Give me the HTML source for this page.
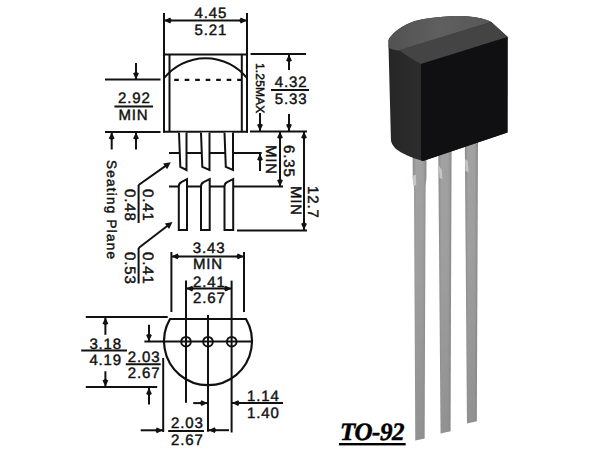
<!DOCTYPE html>
<html><head><meta charset="utf-8"><style>
html,body{margin:0;padding:0;background:#fff;}
svg{display:block;}
text{font-family:"Liberation Sans",sans-serif;fill:#111;stroke:#111;stroke-width:0.45px;text-rendering:geometricPrecision;}
</style></head><body>
<svg width="600" height="451" viewBox="0 0 600 451">
<rect width="600" height="451" fill="#fff"/>
<line x1="164" y1="13" x2="164" y2="132.5" stroke="#111" stroke-width="2.0"/>
<line x1="247" y1="13" x2="247" y2="132.5" stroke="#111" stroke-width="2.0"/>
<line x1="164" y1="20.5" x2="247" y2="20.5" stroke="#111" stroke-width="2.0"/>
<path d="M164.00,20.50 L170.20,17.60 L171.80,20.50 L170.20,23.40Z" fill="#111"/>
<path d="M247.00,20.50 L240.80,23.40 L239.20,20.50 L240.80,17.60Z" fill="#111"/>
<text x="210.925" y="17.6" text-anchor="middle" font-size="15" letter-spacing="0.85" >4.45</text>
<text x="210.925" y="34.6" text-anchor="middle" font-size="15" letter-spacing="0.85" >5.21</text>
<line x1="163" y1="54.5" x2="248" y2="54.5" stroke="#111" stroke-width="2.0"/>
<line x1="169.5" y1="54.5" x2="169.5" y2="131.5" stroke="#111" stroke-width="2.0"/>
<line x1="241.8" y1="54.5" x2="241.8" y2="131.5" stroke="#111" stroke-width="2.0"/>
<line x1="163" y1="131.7" x2="248" y2="131.7" stroke="#111" stroke-width="2.0"/>
<path d="M164.5,77.7 A53,53 0 0 1 246.7,77.7" fill="none" stroke="#111" stroke-width="2"/>
<line x1="174.2" y1="79.8" x2="241" y2="79.8" stroke="#111" stroke-width="2.3" stroke-dasharray="4.6 5.9"/>
<line x1="105" y1="79.5" x2="160.5" y2="79.5" stroke="#111" stroke-width="2.0"/>
<line x1="136" y1="63" x2="136.0" y2="79.5" stroke="#111" stroke-width="2.0"/>
<path d="M136.00,79.50 L133.10,73.30 L136.00,71.70 L138.90,73.30Z" fill="#111"/>
<line x1="105" y1="132" x2="160.5" y2="132" stroke="#111" stroke-width="2.0"/>
<line x1="111.7" y1="149.5" x2="111.7" y2="132.3" stroke="#111" stroke-width="2.0"/>
<path d="M111.70,132.30 L114.60,138.50 L111.70,140.10 L108.80,138.50Z" fill="#111"/>
<line x1="136" y1="149.5" x2="136.0" y2="132.3" stroke="#111" stroke-width="2.0"/>
<path d="M136.00,132.30 L138.90,138.50 L136.00,140.10 L133.10,138.50Z" fill="#111"/>
<text x="134.425" y="103.2" text-anchor="middle" font-size="15" letter-spacing="0.85" >2.92</text>
<line x1="114.4" y1="106.5" x2="153" y2="106.5" stroke="#111" stroke-width="2.0"/>
<text x="133.425" y="119.8" text-anchor="middle" font-size="15" letter-spacing="0.85" >MIN</text>
<text transform="translate(107.3,160) rotate(90)" text-anchor="start" font-size="13.5" letter-spacing="1.25" >Seating Plane</text>
<line x1="169" y1="153" x2="261.7" y2="153" stroke="#111" stroke-width="2.0"/>
<line x1="169" y1="186.5" x2="283" y2="186.5" stroke="#111" stroke-width="2.0"/>
<line x1="237" y1="230.5" x2="307" y2="230.5" stroke="#111" stroke-width="2.0"/>
<path d="M179,132.6 L180.3,166.8 L186.5,170 L186.5,132.6" fill="#fff" stroke="#111" stroke-width="2" stroke-linejoin="miter"/>
<path d="M201,132.6 L202.3,166.8 L209.5,170 L209.5,132.6" fill="#fff" stroke="#111" stroke-width="2" stroke-linejoin="miter"/>
<path d="M224.5,132.6 L225.8,166.8 L233,170 L233,132.6" fill="#fff" stroke="#111" stroke-width="2" stroke-linejoin="miter"/>
<path d="M178.8,230 L178.8,186.5 Q178.8,183.2 181.4,182.2 L187,179.2 L187,230 Z" fill="#fff" stroke="#111" stroke-width="2" stroke-linejoin="miter"/>
<path d="M201,230 L201,186.5 Q201,183.2 203.6,182.2 L209.7,179.2 L209.7,230 Z" fill="#fff" stroke="#111" stroke-width="2" stroke-linejoin="miter"/>
<path d="M224.5,230 L224.5,186.5 Q224.5,183.2 227.1,182.2 L233.2,179.2 L233.2,230 Z" fill="#fff" stroke="#111" stroke-width="2" stroke-linejoin="miter"/>
<line x1="250.6" y1="54" x2="306" y2="54" stroke="#111" stroke-width="2.0"/>
<line x1="250" y1="131.5" x2="307" y2="131.5" stroke="#111" stroke-width="2.0"/>
<text transform="translate(256,63) rotate(90)" text-anchor="start" font-size="12" letter-spacing="0.15" >1.25MAX</text>
<line x1="260" y1="113" x2="260.0" y2="131.0" stroke="#111" stroke-width="2.0"/>
<path d="M260.00,131.00 L257.10,124.80 L260.00,123.20 L262.90,124.80Z" fill="#111"/>
<line x1="260" y1="171" x2="260.0" y2="153.5" stroke="#111" stroke-width="2.0"/>
<path d="M260.00,153.50 L262.90,159.70 L260.00,161.30 L257.10,159.70Z" fill="#111"/>
<line x1="289" y1="70" x2="289.0" y2="54.5" stroke="#111" stroke-width="2.0"/>
<path d="M289.00,54.50 L291.90,60.70 L289.00,62.30 L286.10,60.70Z" fill="#111"/>
<line x1="289" y1="114" x2="289.0" y2="131.0" stroke="#111" stroke-width="2.0"/>
<path d="M289.00,131.00 L286.10,124.80 L289.00,123.20 L291.90,124.80Z" fill="#111"/>
<text x="291.125" y="87" text-anchor="middle" font-size="15" letter-spacing="0.85" >4.32</text>
<line x1="271" y1="90" x2="309" y2="90" stroke="#111" stroke-width="2.0"/>
<text x="291.125" y="103.5" text-anchor="middle" font-size="15" letter-spacing="0.85" >5.33</text>
<line x1="280" y1="131.5" x2="280" y2="186.5" stroke="#111" stroke-width="2.0"/>
<path d="M280.00,131.50 L282.90,137.70 L280.00,139.30 L277.10,137.70Z" fill="#111"/>
<path d="M280.00,186.50 L277.10,180.30 L280.00,178.70 L282.90,180.30Z" fill="#111"/>
<line x1="304" y1="131.5" x2="304" y2="230" stroke="#111" stroke-width="2.0"/>
<path d="M304.00,131.50 L306.90,137.70 L304.00,139.30 L301.10,137.70Z" fill="#111"/>
<path d="M304.00,230.00 L301.10,223.80 L304.00,222.20 L306.90,223.80Z" fill="#111"/>
<text transform="translate(283.5,145) rotate(90)" text-anchor="start" font-size="15" letter-spacing="0.85" >6.35</text>
<text transform="translate(265.5,145) rotate(90)" text-anchor="start" font-size="15" letter-spacing="0.85" >MIN</text>
<text transform="translate(307.5,186) rotate(90)" text-anchor="start" font-size="15" letter-spacing="0.85" >12.7</text>
<text transform="translate(290.8,186) rotate(90)" text-anchor="start" font-size="15" letter-spacing="0.85" >MIN</text>
<line x1="138.6" y1="185" x2="138.6" y2="223" stroke="#111" stroke-width="2.0"/>
<line x1="138.6" y1="185" x2="166.71340283434077" y2="165.18092408883433" stroke="#111" stroke-width="2.0"/>
<path d="M170.80,162.30 L167.10,169.19 L165.08,166.33 L163.06,163.47Z" fill="#111"/>
<text transform="translate(142.5,189) rotate(90)" text-anchor="start" font-size="15" letter-spacing="0.85" >0.41</text>
<text transform="translate(124.7,189) rotate(90)" text-anchor="start" font-size="15" letter-spacing="0.85" >0.48</text>
<line x1="138.6" y1="248" x2="138.6" y2="283.5" stroke="#111" stroke-width="2.0"/>
<line x1="138.6" y1="248" x2="168.53253336868846" y2="225.04289476147787" stroke="#111" stroke-width="2.0"/>
<path d="M172.50,222.00 L169.08,229.04 L166.95,226.26 L164.82,223.48Z" fill="#111"/>
<text transform="translate(142.5,252) rotate(90)" text-anchor="start" font-size="15" letter-spacing="0.85" >0.41</text>
<text transform="translate(124.7,252) rotate(90)" text-anchor="start" font-size="15" letter-spacing="0.85" >0.53</text>
<line x1="171.4" y1="252" x2="171.4" y2="312" stroke="#111" stroke-width="2.0"/>
<line x1="244" y1="252" x2="244" y2="312" stroke="#111" stroke-width="2.0"/>
<line x1="171.4" y1="256.4" x2="244" y2="256.4" stroke="#111" stroke-width="2.0"/>
<path d="M171.40,256.40 L177.60,253.50 L179.20,256.40 L177.60,259.30Z" fill="#111"/>
<path d="M244.00,256.40 L237.80,259.30 L236.20,256.40 L237.80,253.50Z" fill="#111"/>
<text x="209.125" y="253.4" text-anchor="middle" font-size="15" letter-spacing="0.85" >3.43</text>
<text x="207.925" y="269.4" text-anchor="middle" font-size="15" letter-spacing="0.85" >MIN</text>
<line x1="186" y1="280.6" x2="186" y2="402.7" stroke="#111" stroke-width="2.0"/>
<line x1="231.6" y1="280.6" x2="231.6" y2="432.5" stroke="#111" stroke-width="2.0"/>
<line x1="186" y1="288.6" x2="231.6" y2="288.6" stroke="#111" stroke-width="2.0"/>
<path d="M186.00,288.60 L192.20,285.70 L193.80,288.60 L192.20,291.50Z" fill="#111"/>
<path d="M231.60,288.60 L225.40,291.50 L223.80,288.60 L225.40,285.70Z" fill="#111"/>
<text x="209.425" y="286.6" text-anchor="middle" font-size="15" letter-spacing="0.85" >2.41</text>
<text x="209.425" y="303" text-anchor="middle" font-size="15" letter-spacing="0.85" >2.67</text>
<path d="M170,319 L246,319 A44,44 0 1 1 170,319 Z" fill="none" stroke="#111" stroke-width="2.2"/>
<circle cx="186" cy="341.7" r="4.8" fill="none" stroke="#111" stroke-width="2"/>
<circle cx="208" cy="341.7" r="4.8" fill="none" stroke="#111" stroke-width="2"/>
<circle cx="231.7" cy="341.7" r="4.8" fill="none" stroke="#111" stroke-width="2"/>
<line x1="144.4" y1="341.5" x2="251.5" y2="341.5" stroke="#111" stroke-width="2.0"/>
<line x1="208" y1="315" x2="208" y2="431.8" stroke="#111" stroke-width="2.0"/>
<line x1="85.8" y1="317.1" x2="167.7" y2="317.1" stroke="#111" stroke-width="2.0"/>
<line x1="85.8" y1="387" x2="157.2" y2="387" stroke="#111" stroke-width="2.0"/>
<line x1="105.4" y1="334.8" x2="105.4" y2="317.5" stroke="#111" stroke-width="2.0"/>
<path d="M105.40,317.50 L108.30,323.70 L105.40,325.30 L102.50,323.70Z" fill="#111"/>
<line x1="105.4" y1="371.3" x2="105.4" y2="386.6" stroke="#111" stroke-width="2.0"/>
<path d="M105.40,386.60 L102.50,380.40 L105.40,378.80 L108.30,380.40Z" fill="#111"/>
<text x="105.725" y="348.7" text-anchor="middle" font-size="15" letter-spacing="0.85" >3.18</text>
<line x1="81.2" y1="350.4" x2="127" y2="350.4" stroke="#111" stroke-width="2.0"/>
<text x="105.725" y="365" text-anchor="middle" font-size="15" letter-spacing="0.85" >4.19</text>
<text x="144.125" y="362" text-anchor="middle" font-size="15" letter-spacing="0.85" >2.03</text>
<line x1="125.8" y1="364.3" x2="160.7" y2="364.3" stroke="#111" stroke-width="2.0"/>
<text x="144.125" y="378.3" text-anchor="middle" font-size="15" letter-spacing="0.85" >2.67</text>
<line x1="149" y1="324.8" x2="149.0" y2="341.2" stroke="#111" stroke-width="2.0"/>
<path d="M149.00,341.20 L146.10,335.00 L149.00,333.40 L151.90,335.00Z" fill="#111"/>
<line x1="149" y1="404.4" x2="149.0" y2="387.8" stroke="#111" stroke-width="2.0"/>
<path d="M149.00,387.80 L151.90,394.00 L149.00,395.60 L146.10,394.00Z" fill="#111"/>
<line x1="163.2" y1="358" x2="163.2" y2="432" stroke="#111" stroke-width="2.0"/>
<line x1="140.7" y1="430.3" x2="163.0" y2="430.3" stroke="#111" stroke-width="2.0"/>
<path d="M163.00,430.30 L156.80,433.20 L155.20,430.30 L156.80,427.40Z" fill="#111"/>
<line x1="193.2" y1="403.1" x2="207.6" y2="403.1" stroke="#111" stroke-width="2.0"/>
<path d="M207.60,403.10 L201.40,406.00 L199.80,403.10 L201.40,400.20Z" fill="#111"/>
<line x1="283" y1="403.1" x2="232.0" y2="403.1" stroke="#111" stroke-width="2.0"/>
<path d="M232.00,403.10 L238.20,400.20 L239.80,403.10 L238.20,406.00Z" fill="#111"/>
<text x="263.425" y="400.9" text-anchor="middle" font-size="15" letter-spacing="0.85" >1.14</text>
<text x="263.425" y="417.8" text-anchor="middle" font-size="15" letter-spacing="0.85" >1.40</text>
<text x="187.425" y="428.3" text-anchor="middle" font-size="15" letter-spacing="0.85" >2.03</text>
<line x1="168.2" y1="431.1" x2="204" y2="431.1" stroke="#111" stroke-width="2.0"/>
<text x="187.425" y="445.1" text-anchor="middle" font-size="15" letter-spacing="0.85" >2.67</text>
<line x1="229" y1="430.2" x2="208.5" y2="430.2" stroke="#111" stroke-width="2.0"/>
<path d="M208.50,430.20 L214.70,427.30 L216.30,430.20 L214.70,433.10Z" fill="#111"/>
<text x="340" y="439.7" style="font-family:&quot;Liberation Serif&quot;,serif;font-weight:bold;font-style:italic;font-size:25px;fill:#000;stroke:#000;stroke-width:0.5px;letter-spacing:-0.4px">TO-92</text>
<rect x="339" y="443" width="66.7" height="2.4" fill="#000"/>

<defs>
 <linearGradient id="leadg" x1="0" x2="1" y1="0" y2="0">
  <stop offset="0" stop-color="#8a8a8a"/><stop offset="0.25" stop-color="#a2a2a2"/><stop offset="0.75" stop-color="#a0a0a0"/><stop offset="1" stop-color="#888"/>
 </linearGradient>
 <linearGradient id="leadv" x1="0" x2="0" y1="0" y2="1">
  <stop offset="0" stop-color="#000" stop-opacity="0"/><stop offset="0.4" stop-color="#000" stop-opacity="0.02"/><stop offset="1" stop-color="#000" stop-opacity="0.1"/>
 </linearGradient>
 <linearGradient id="topg" x1="0" x2="1" y1="0" y2="0">
  <stop offset="0" stop-color="#525252"/><stop offset="0.5" stop-color="#5f5f5f"/><stop offset="1" stop-color="#585858"/>
 </linearGradient>
 <linearGradient id="leftg" x1="0" x2="1" y1="0" y2="0">
  <stop offset="0" stop-color="#262626"/><stop offset="0.4" stop-color="#303030"/><stop offset="1" stop-color="#222"/>
 </linearGradient>
</defs>
<path d="M412.6,150 L426.6,150 L426.4,178 L425.6,186 L424.6,438.5 L415.3,440.5 L414,186 L412.8,178 Z" fill="url(#leadg)"/>
<path d="M412.6,150 L426.6,150 L426.4,178 L425.6,186 L424.6,438.5 L415.3,440.5 L414,186 L412.8,178 Z" fill="url(#leadv)"/>
<path d="M412.3,176 L415.8,174.5 L416.3,185 L413.5,186 Z" fill="#c9c5c5"/>
<path d="M438.2,145 L451.6,145 L450.5,431.3 L440.6,433.5 Z" fill="url(#leadg)"/>
<path d="M438.2,145 L451.6,145 L450.5,431.3 L440.6,433.5 Z" fill="url(#leadv)"/>
<path d="M438.6,165 L441.8,170 L442.4,179 L439.6,178 Z" fill="#c9c5c5"/>
<path d="M464.8,140 L478,140 L476.8,421.3 L467,423.5 Z" fill="url(#leadg)"/>
<path d="M464.8,140 L478,140 L476.8,421.3 L467,423.5 Z" fill="url(#leadv)"/>
<path d="M465,159 L467.8,161 L468.6,172 L465.6,171 Z" fill="#c9c5c5"/>
<path d="M388.5,40 C392,33 402,25 415,21 C428,17.5 445,16 462,16 C475,16.5 485,18.5 491.3,22.1 L507.6,36.8 L507.5,132.6 L423,161 C412,158 401,153 396,149 C392,145 390.9,142 390.9,138.8 L388.5,46 Z" fill="url(#leftg)"/>
<path d="M388.5,40 C392,33 402,25 415,21 C428,17.5 445,16 462,16 C475,16.5 485,18.5 491.3,22.1 L399,50.5 C394,50 389.5,49 388.5,47 Z" fill="url(#topg)"/>
<path d="M399,50 L491.3,22.1 L507.6,37 L421,64 C412,59 405,55 399,50 Z" fill="#444"/>
<path d="M421,64 L507.6,37 L507.5,132.6 L423,161 L421,160.3 Z" fill="#101013"/>

</svg></body></html>
